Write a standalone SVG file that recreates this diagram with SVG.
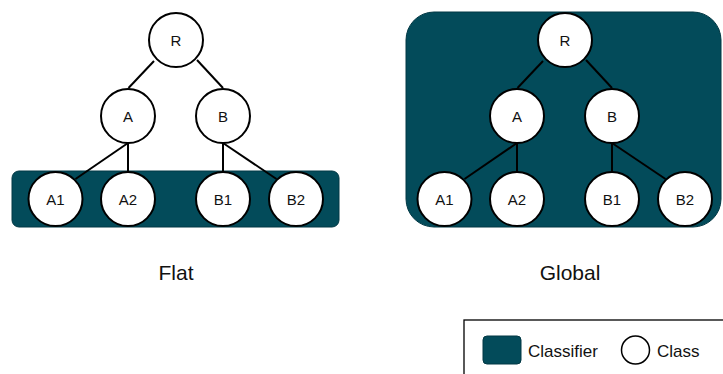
<svg xmlns="http://www.w3.org/2000/svg" width="723" height="374" viewBox="0 0 723 374">
  <style>
    .classifier { fill: #034b5a; stroke: #023844; stroke-width: 1; }
    .node circle { fill: #ffffff; stroke: #000000; stroke-width: 2; }
    .node text, .label, .legend-text { font-family: "Liberation Sans", Arial, sans-serif; fill: #111111; text-anchor: middle; }
    .node text { font-size: 15px; }
    .label { font-size: 21px; }
    .legend-text { font-size: 17px; text-anchor: start; }
    .edge { stroke: #000000; stroke-width: 2; fill: none; }
  </style>

  <!-- Flat hierarchy: classifier covers leaf classes only -->
  <g id="flat-classifier">
    <rect class="classifier" x="12" y="171" width="327" height="56" rx="7"/>
  </g>

  <!-- Global hierarchy: one classifier covers the whole tree -->
  <g id="global-classifier">
    <rect class="classifier" x="406" y="12" width="315" height="215" rx="28"/>
  </g>

  <g id="connectors">
    <!-- flat tree -->
    <line class="edge" x1="154" y1="61" x2="128.5" y2="88"/>
    <line class="edge" x1="197" y1="60" x2="223" y2="88"/>
    <line class="edge" x1="128" y1="143" x2="75.5" y2="179"/>
    <line class="edge" x1="128" y1="143" x2="128" y2="172"/>
    <line class="edge" x1="223" y1="143" x2="223" y2="172"/>
    <line class="edge" x1="223" y1="143" x2="276.5" y2="179"/>
    <!-- global tree -->
    <line class="edge" x1="543" y1="61" x2="517.5" y2="88"/>
    <line class="edge" x1="586" y1="60" x2="612" y2="88"/>
    <line class="edge" x1="517" y1="143" x2="464.5" y2="179"/>
    <line class="edge" x1="517" y1="143" x2="517" y2="172"/>
    <line class="edge" x1="612" y1="143" x2="612" y2="172"/>
    <line class="edge" x1="612" y1="143" x2="665.5" y2="179"/>
  </g>

  <!-- flat tree nodes -->
  <g id="flat-R" class="node"><circle cx="176" cy="40" r="27"/><text x="176" y="45.5">R</text></g>
  <g id="flat-A" class="node"><circle cx="128" cy="116" r="27"/><text x="128" y="121.5">A</text></g>
  <g id="flat-B" class="node"><circle cx="223" cy="116" r="27"/><text x="223" y="121.5">B</text></g>
  <g id="flat-A1" class="node"><circle cx="55.5" cy="199" r="27"/><text x="55.5" y="204.5">A1</text></g>
  <g id="flat-A2" class="node"><circle cx="128" cy="199" r="27"/><text x="128" y="204.5">A2</text></g>
  <g id="flat-B1" class="node"><circle cx="223" cy="199" r="27"/><text x="223" y="204.5">B1</text></g>
  <g id="flat-B2" class="node"><circle cx="296" cy="199" r="27"/><text x="296" y="204.5">B2</text></g>

  <!-- global tree nodes -->
  <g id="global-R" class="node"><circle cx="565" cy="40" r="27"/><text x="565" y="45.5">R</text></g>
  <g id="global-A" class="node"><circle cx="517" cy="116" r="27"/><text x="517" y="121.5">A</text></g>
  <g id="global-B" class="node"><circle cx="612" cy="116" r="27"/><text x="612" y="121.5">B</text></g>
  <g id="global-A1" class="node"><circle cx="444.5" cy="199" r="27"/><text x="444.5" y="204.5">A1</text></g>
  <g id="global-A2" class="node"><circle cx="517" cy="199" r="27"/><text x="517" y="204.5">A2</text></g>
  <g id="global-B1" class="node"><circle cx="612" cy="199" r="27"/><text x="612" y="204.5">B1</text></g>
  <g id="global-B2" class="node"><circle cx="685" cy="199" r="27"/><text x="685" y="204.5">B2</text></g>

  <!-- captions -->
  <text class="label" x="176" y="280">Flat</text>
  <text class="label" x="570" y="280">Global</text>

  <!-- legend -->
  <g id="legend">
    <rect x="464" y="320" width="270" height="60" fill="#ffffff" stroke="#000000" stroke-width="1.3"/>
    <rect class="classifier" x="483" y="336" width="38" height="28" rx="4"/>
    <text class="legend-text" x="528" y="356.5">Classifier</text>
    <circle cx="635.5" cy="350" r="14" fill="#ffffff" stroke="#000000" stroke-width="1.5"/>
    <text class="legend-text" x="657" y="356.5">Class</text>
  </g>
</svg>
